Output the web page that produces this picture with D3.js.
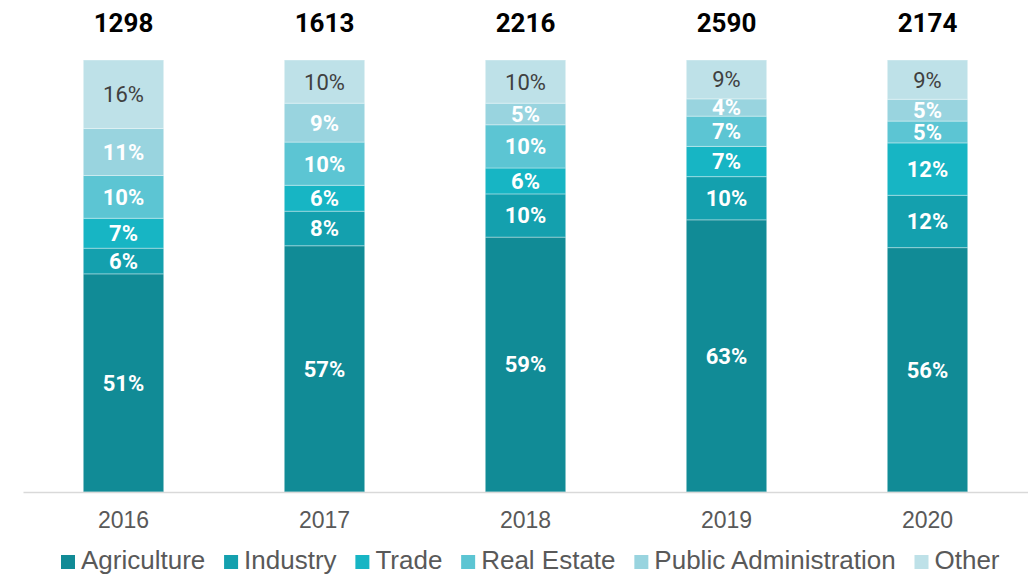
<!DOCTYPE html>
<html>
<head>
<meta charset="utf-8">
<script src="https://cdn.jsdelivr.net/npm/d3@7"></script>
<style>
  body { margin: 0; background: #fff; }
</style>
</head>
<body>
<div id="chart"></div>
<script>
var width = 1028,
    height = 576;

// data (share of total, %)
var years = ["2016", "2017", "2018", "2019", "2020"];
var totals = [1298, 1613, 2216, 2590, 2174];
var sectors = ["Agriculture", "Industry", "Trade", "Real Estate", "Public Administration", "Other"];
var agriculture = [51, 57, 59, 63, 56];
var industry = [6, 8, 10, 10, 12];
var trade = [7, 6, 6, 7, 12];
var realEstate = [10, 10, 10, 7, 5];
var publicAdmin = [11, 9, 5, 4, 5];
var other = [16, 10, 10, 9, 9];

var colors = ["#118b96", "#14a0ae", "#17b5c4", "#5cc5d3", "#99d4df", "#bee1e8"];

var series = [agriculture, industry, trade, realEstate, publicAdmin, other];
var rows = years.map(function(y, i) {
    var r = { year: y };
    sectors.forEach(function(s, j) { r[s] = series[j][i]; });
    return r;
});

var svg = d3.select("#chart").append("svg")
    .attr("width", width)
    .attr("height", height);

var x = d3.scaleBand()
    .domain(years)
    .range([23, 1028])
    .paddingInner(0.6)
    .paddingOuter(0.3);

var y = d3.scaleLinear()
    .domain([0, 1])
    .range([492, 60]);

var color = d3.scaleOrdinal()
    .domain(sectors)
    .range(colors);

var stacked = d3.stack()
    .keys(sectors)
    .offset(d3.stackOffsetExpand)(rows);

var layer = svg.append("g")
    .selectAll("g")
    .data(stacked)
    .enter().append("g")
    .attr("fill", function(d) { return color(d.key); });

layer.selectAll("rect")
    .data(function(d) { return d; })
    .enter().append("rect")
    .attr("x", function(d) { return x(d.data.year); })
    .attr("width", x.bandwidth())
    .attr("y", function(d) { return y(d[1]); })
    .attr("height", function(d) { return y(d[0]) - y(d[1]); })
    .attr("stroke", "#ffffff")
    .attr("stroke-opacity", 0.35)
    .attr("stroke-width", 1);

// percentage labels
stacked.forEach(function(s) {
    svg.append("g").selectAll("text")
        .data(s)
        .enter().append("text")
        .attr("x", function(d) { return x(d.data.year) + x.bandwidth() / 2; })
        .attr("y", function(d) { return (y(d[0]) + y(d[1])) / 2; })
        .attr("dy", "0.36em")
        .attr("text-anchor", "middle")
        .style("font-family", "Roboto, sans-serif")
        .style("font-size", "22px")
        .style("font-weight", s.key == "Other" ? "normal" : "bold")
        .style("fill", s.key == "Other" ? "#404040" : "#ffffff")
        .text(function(d) { return d.data[s.key] + "%"; });
});

// totals on top
svg.append("g").selectAll("text")
    .data(years)
    .enter().append("text")
    .attr("x", function(d) { return x(d) + x.bandwidth() / 2; })
    .attr("y", 32)
    .attr("text-anchor", "middle")
    .style("font-family", "Roboto, sans-serif")
    .style("font-size", "26px")
    .style("font-weight", "bold")
    .style("fill", "#000")
    .text(function(d, i) { return totals[i]; });

// x axis
var xAxis = svg.append("g")
    .attr("transform", "translate(0,492)")
    .call(d3.axisBottom(x).tickSize(0).tickPadding(20));
xAxis.select(".domain")
    .attr("stroke", "#d9d9d9")
    .attr("stroke-width", 1.5);
xAxis.selectAll("text")
    .style("font-family", "'Liberation Sans', Arial, sans-serif")
    .style("font-size", "23px")
    .style("fill", "#595959");

// legend
var legend = svg.append("g").attr("transform", "translate(61,0)");
var lx = 0;
sectors.forEach(function(s) {
    var g = legend.append("g").attr("transform", "translate(" + lx + ",0)");
    g.append("rect")
        .attr("x", 0)
        .attr("y", 555)
        .attr("width", 14)
        .attr("height", 14)
        .attr("fill", color(s));
    var t = g.append("text")
        .attr("x", 20)
        .attr("y", 569)
        .style("font-family", "'Liberation Sans', Arial, sans-serif")
        .style("font-size", "26px")
        .style("fill", "#595959")
        .text(s);
    lx += 20 + t.node().getComputedTextLength() + 18.8;
});
</script>
</body>
</html>
